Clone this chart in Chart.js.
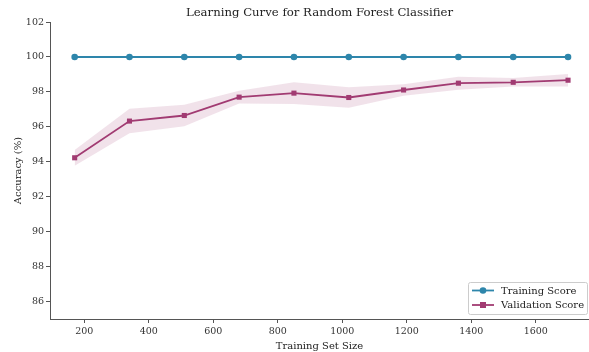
<!DOCTYPE html>
<html>
<head>
<meta charset="utf-8">
<script src="https://cdn.jsdelivr.net/npm/chart.js@4"></script>
<style>
  html, body { margin: 0; padding: 0; background: #fff; }
  #wrap { width: 589px; height: 352px; }
</style>
</head>
<body>
<div id="wrap"><canvas id="curveChart" width="589" height="352"></canvas></div>
<script>
// training set sizes and scores (%)
const trainSizes = [170, 340, 510, 680, 850, 1020, 1190, 1360, 1530, 1700];
const trainScore = [100, 100, 100, 100, 100, 100, 100, 100, 100, 100];
const valScore = [94.23, 96.33, 96.65, 97.70, 97.93, 97.68, 98.11, 98.50, 98.55, 98.67];
const valStd = [0.45, 0.70, 0.62, 0.37, 0.62, 0.58, 0.33, 0.37, 0.24, 0.36];
const xTicks = [200, 400, 600, 800, 1000, 1200, 1400, 1600];
const yTicks = [86, 88, 90, 92, 94, 96, 98, 100, 102];

const blue = '#2E86AB';
const plum = '#A23B72';
const serif = "'DejaVu Serif', serif";

const pts = arr => trainSizes.map((x, i) => ({ x: x, y: arr[i] }));
const valLower = valScore.map((v, i) => v - valStd[i]);
const valUpper = valScore.map((v, i) => v + valStd[i]);

// legend drawn inside the plot, bottom right (matplotlib style)
const boxLegend = {
  id: 'boxLegend',
  afterDraw(chart) {
    const ctx = chart.ctx;
    const w = 119, h = 32;
    const x0 = 468, y0 = chart.chartArea.bottom - h - 5;
    ctx.save();
    ctx.fillStyle = 'rgba(255,255,255,0.85)';
    ctx.strokeStyle = '#cccccc';
    ctx.lineWidth = 1;
    ctx.beginPath();
    ctx.roundRect(x0 + 0.5, y0 + 0.5, w, h, 2);
    ctx.fill();
    ctx.stroke();
    const items = [
      { label: 'Training Score', color: blue, shape: 'circle' },
      { label: 'Validation Score', color: plum, shape: 'square' }
    ];
    ctx.font = '10px ' + serif;
    ctx.textBaseline = 'middle';
    items.forEach((it, i) => {
      const cy = y0 + 8.5 + i * 14.5;
      ctx.strokeStyle = it.color;
      ctx.lineWidth = 1.8;
      ctx.beginPath();
      ctx.moveTo(x0 + 4, cy);
      ctx.lineTo(x0 + 26, cy);
      ctx.stroke();
      ctx.fillStyle = it.color;
      if (it.shape === 'circle') {
        ctx.beginPath();
        ctx.arc(x0 + 15, cy, 3.3, 0, Math.PI * 2);
        ctx.fill();
      } else {
        ctx.fillRect(x0 + 12, cy - 3, 6, 6);
      }
      ctx.fillStyle = '#222';
      ctx.fillText(it.label, x0 + 33, cy + 0.5);
    });
    ctx.restore();
  }
};

const ctx = document.getElementById('curveChart').getContext('2d');
new Chart(ctx, {
  type: 'line',
  data: {
    datasets: [
      {
        label: 'lower',
        data: pts(valLower),
        borderWidth: 0,
        pointRadius: 0,
        fill: false
      },
      {
        label: 'upper',
        data: pts(valUpper),
        borderWidth: 0,
        pointRadius: 0,
        backgroundColor: 'rgba(162, 59, 114, 0.15)',
        fill: '-1'
      },
      {
        label: 'Training Score',
        data: pts(trainScore),
        borderColor: blue,
        backgroundColor: blue,
        borderWidth: 1.8,
        pointStyle: 'circle',
        pointRadius: 3.3,
        pointBorderWidth: 0,
        fill: false
      },
      {
        label: 'Validation Score',
        data: pts(valScore),
        borderColor: plum,
        backgroundColor: plum,
        borderWidth: 1.8,
        pointStyle: 'rect',
        pointRadius: 3.6,
        pointBorderWidth: 0,
        fill: false
      }
    ]
  },
  options: {
    responsive: false,
    animation: false,
    layout: { padding: 0, autoPadding: false },
    plugins: {
      legend: { display: false },
      tooltip: { enabled: false },
      title: {
        display: true,
        fullSize: false,
        text: 'Learning Curve for Random Forest Classifier',
        color: '#222',
        font: { family: serif, size: 11.7, weight: 'normal', lineHeight: 1.2 },
        padding: { top: 6, bottom: 2 }
      }
    },
    scales: {
      x: {
        type: 'linear',
        min: 93.5,
        max: 1765,
        afterBuildTicks: s => { s.ticks = xTicks.map(v => ({ value: v })); },
        afterFit: s => { s.height = 33; s.paddingLeft = 0; s.paddingRight = 0; },
        grid: { display: true, drawOnChartArea: false, tickLength: 4, color: '#555' },
        border: { display: true, color: '#555', width: 1 },
        ticks: {
          color: '#333',
          font: { family: serif, size: 9.5 },
          padding: 3,
          maxRotation: 0,
          callback: v => String(v)
        },
        title: {
          display: true,
          text: 'Training Set Size',
          color: '#222',
          font: { family: serif, size: 10 },
          padding: { top: 0, bottom: 0 }
        }
      },
      y: {
        min: 85,
        max: 102,
        afterBuildTicks: s => { s.ticks = yTicks.map(v => ({ value: v })); },
        afterFit: s => { s.width = 50; },
        grid: { display: true, drawOnChartArea: false, tickLength: 4, color: '#555' },
        border: { display: true, color: '#555', width: 1 },
        ticks: { color: '#333', font: { family: serif, size: 9.5 }, padding: 2 },
        title: {
          display: true,
          text: 'Accuracy (%)',
          color: '#222',
          font: { family: serif, size: 10 },
          padding: { top: 12, bottom: 0 }
        }
      }
    }
  },
  plugins: [boxLegend]
});
</script>
</body>
</html>
